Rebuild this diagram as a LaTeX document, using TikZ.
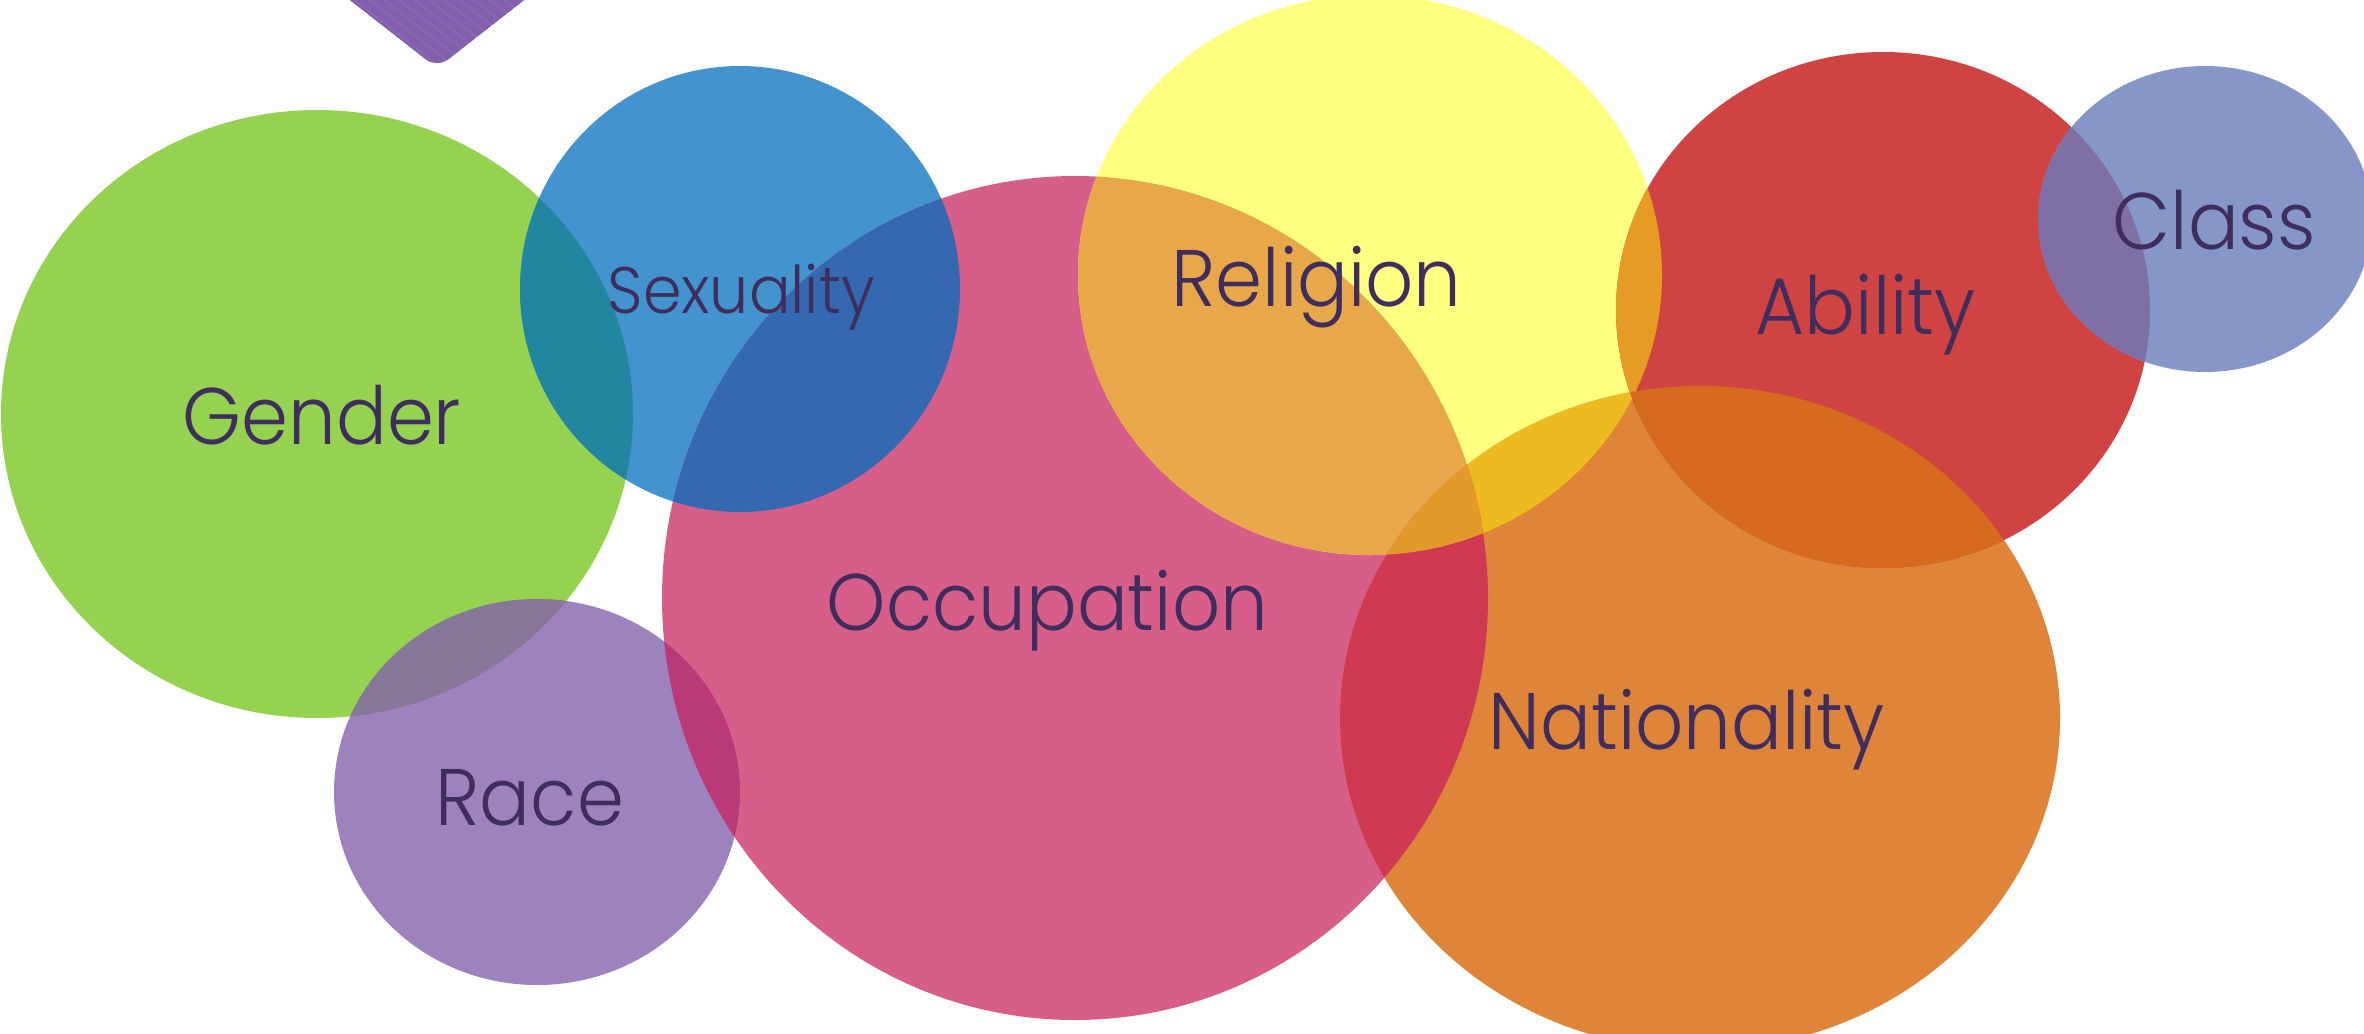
\documentclass[tikz,border=0pt]{standalone}
\usepackage{fontspec}
\setmainfont{Poppins Light}[FakeStretch=0.94]
\usepackage{tikz}

\definecolor{inktext}{HTML}{3F2D5E}
\definecolor{gendercol}{HTML}{94D250}
\definecolor{sexcol}{HTML}{4293CE}
\definecolor{occcol}{HTML}{D85E8A}
\definecolor{racecol}{HTML}{9E82BE}
\definecolor{relcol}{HTML}{FFFF80}
\definecolor{natcol}{HTML}{DF8539}
\definecolor{abilcol}{HTML}{CF4342}
\definecolor{classcol}{HTML}{8796C9}
\definecolor{gensexcol}{HTML}{2386A0}
\definecolor{sexocccol}{HTML}{3469B1}
\definecolor{genracecol}{HTML}{877799}
\definecolor{raceocccol}{HTML}{B93A77}
\definecolor{occrelcol}{HTML}{E8A84A}
\definecolor{relnatcol}{HTML}{EDBB1F}
\definecolor{occnatcol}{HTML}{CF3A52}
\definecolor{tripcol}{HTML}{E49A2B}
\definecolor{relabilcol}{HTML}{E59B24}
\definecolor{abilnatcol}{HTML}{D66A1E}
\definecolor{abilclasscol}{HTML}{7E6FA5}
\definecolor{cornercol}{HTML}{8A6BB5}
\definecolor{stripecol}{HTML}{8260AD}

% the eight blobs, in picture units
\newcommand{\gendershape}{(317,414) ellipse [x radius=316, y radius=304]}
\newcommand{\sexshape}{(740,289) ellipse [x radius=220, y radius=223]}
\newcommand{\occshape}{(1075,598) ellipse [x radius=413, y radius=422]}
\newcommand{\raceshape}{(537,792) ellipse [x radius=203, y radius=193]}
\newcommand{\relshape}{(1370,275) ellipse [x radius=292, y radius=280]}
\newcommand{\natshape}{(1700,718) ellipse [x radius=360, y radius=332]}
\newcommand{\abilshape}{(1883,310) ellipse [x radius=267, y radius=258]}
\newcommand{\classshape}{(2205,219) ellipse [x radius=167, y radius=153]}

\tikzset{
  tagtext/.style={text=inktext, inner sep=0pt, anchor=base west,
    font=\fontsize{22.8}{27}\selectfont},
  smalltag/.style={tagtext, font=\fontsize{18.7}{22}\selectfont}
}

\begin{document}
\begin{tikzpicture}[x=0.01cm,y=-0.01cm]
	\useasboundingbox (0,0) rectangle (2364,1033);
	\clip (0,0) rectangle (2364,1033);
	
	%striped corner at the top
	\begin{scope}
		\clip[rounded corners=4pt] (273,-60) -- (437,68) -- (601,-60) -- cycle;
		\fill[cornercol] (250,-80) rectangle (640,90);
		\foreach \s in {0,15,...,420}
			\draw[stripecol,line width=2.2pt] (\s+60,-60) -- ++(164,128);
	\end{scope}
	
	%the plain blobs
	\fill[gendercol] \gendershape;
	\fill[sexcol] \sexshape;
	\fill[occcol] \occshape;
	\fill[racecol] \raceshape;
	\fill[relcol] \relshape;
	\fill[natcol] \natshape;
	\fill[abilcol] \abilshape;
	\fill[classcol] \classshape;
	
	%overlaps of two
	\begin{scope}\clip \gendershape; \fill[gensexcol] \sexshape; \end{scope}
	\begin{scope}\clip \sexshape; \fill[sexocccol] \occshape; \end{scope}
	\begin{scope}\clip \gendershape; \fill[genracecol] \raceshape; \end{scope}
	\begin{scope}\clip \raceshape; \fill[raceocccol] \occshape; \end{scope}
	\begin{scope}\clip \occshape; \fill[occrelcol] \relshape; \end{scope}
	\begin{scope}\clip \relshape; \fill[relnatcol] \natshape; \end{scope}
	\begin{scope}\clip \occshape; \fill[occnatcol] \natshape; \end{scope}
	\begin{scope}\clip \relshape; \fill[relabilcol] \abilshape; \end{scope}
	\begin{scope}\clip \abilshape; \fill[abilnatcol] \natshape; \end{scope}
	\begin{scope}\clip \abilshape; \fill[abilclasscol] \classshape; \end{scope}
	
	%overlap of three
	\begin{scope}
		\clip \occshape; \clip \relshape;
		\fill[tripcol] \natshape;
	\end{scope}
	
	%the words
	\node[tagtext] (gender) at (182,444) {Gender};
	\node[smalltag] (sexuality) at (607,313) {Sexuality};
	\node[tagtext] (occupation) at (826,630) {Occupation};
	\node[tagtext] (religion) at (1171,306) {Religion};
	\node[tagtext] (ability) at (1755,334) {Ability};
	\node[tagtext] (class) at (2112,249) {Class};
	\node[tagtext] (nationality) at (1488,749) {Nationality};
	\node[tagtext] (race) at (435,825) {Race};
	
\end{tikzpicture}
\end{document}
